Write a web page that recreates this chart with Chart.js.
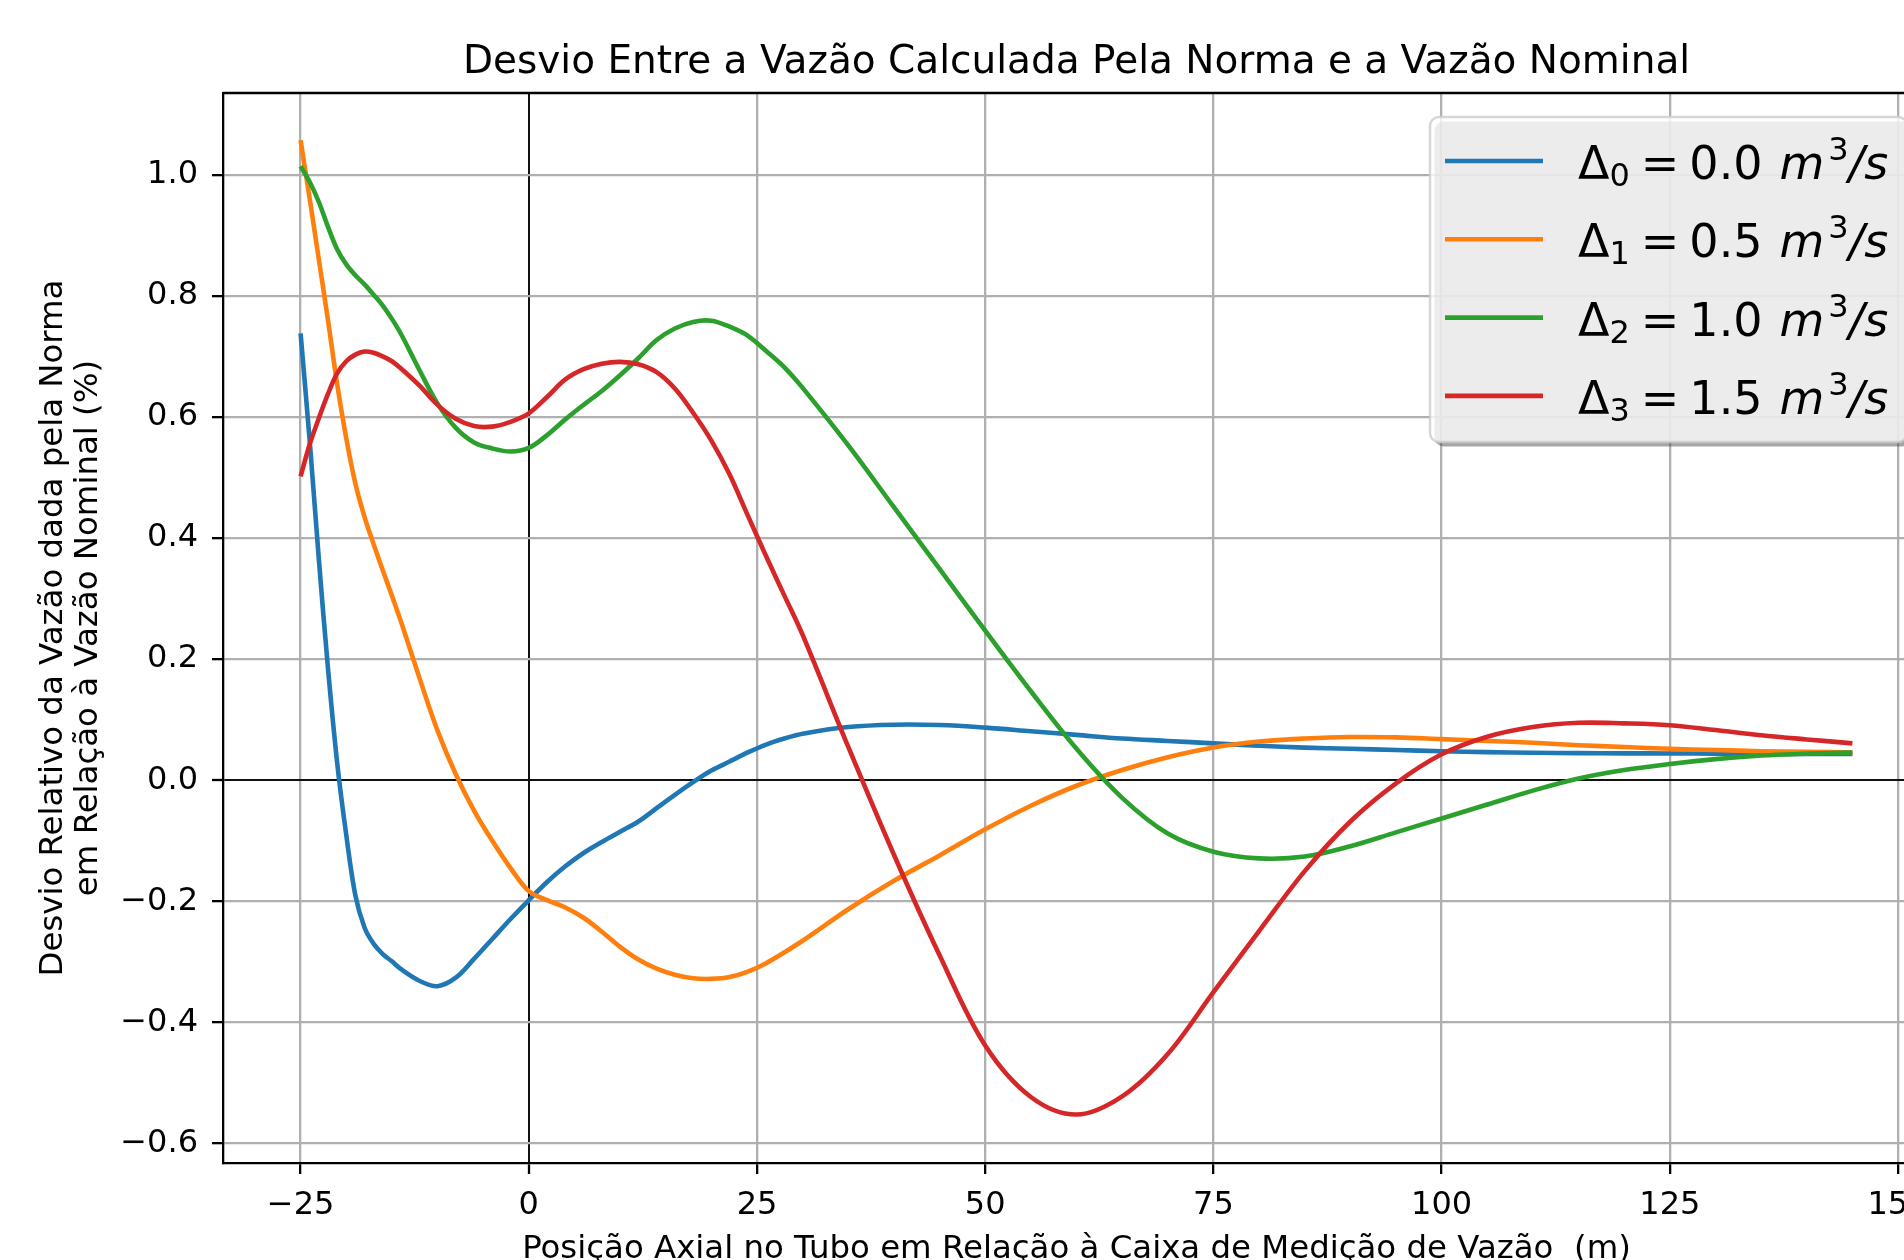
<!DOCTYPE html>
<html>
<head>
<meta charset="utf-8">
<title>Desvio Entre a Vazão Calculada Pela Norma e a Vazão Nominal</title>
<script src="https://cdn.jsdelivr.net/npm/chart.js@4.4.1/dist/chart.umd.min.js"></script>
<style>
    html, body { margin: 0; padding: 0; overflow: hidden; background: #fff; }
    canvas { display: block; }
</style>
</head>
<body>
<canvas id="desvioChart" width="1960" height="1260" style="width:1960px;height:1260px"></canvas>
<script>
// posição axial (m)
const posicao = [-25, -24, -23, -22, -21, -20, -19, -18, -17, -16, -15,
    -14, -12, -10, -8, -6, -4, -2, 0, 2, 4, 6, 8, 10, 12, 14, 16, 18, 20, 22, 24, 26, 28, 30,
    35, 40, 45, 50, 55, 60, 65, 70, 75, 80, 85, 90, 95, 100, 105, 110, 115, 120, 125, 130, 135, 140, 145];

// desvio relativo (%) para cada vazão
const delta0 = [0.738, 0.56, 0.365, 0.185, 0.03, -0.09, -0.19, -0.243, -0.27, -0.287, -0.299,
    -0.312, -0.331, -0.340, -0.326, -0.295, -0.262, -0.229, -0.198, -0.168, -0.142, -0.12, -0.102, -0.085, -0.068, -0.046, -0.024, -0.003, 0.016, 0.031, 0.046, 0.059, 0.069, 0.077,
    0.088, 0.0918, 0.0912, 0.087, 0.081, 0.075, 0.069, 0.065, 0.061, 0.057, 0.054, 0.052, 0.05, 0.048, 0.0465, 0.0455, 0.0448, 0.0445, 0.0443, 0.044, 0.0438, 0.0436, 0.0435];
const delta1 = [1.057, 0.96, 0.86, 0.76, 0.655, 0.565, 0.49, 0.435, 0.39, 0.347, 0.305,
    0.262, 0.17, 0.082, 0.01, -0.05, -0.1, -0.145, -0.183, -0.198, -0.21, -0.227, -0.25, -0.275, -0.296, -0.311, -0.321, -0.327, -0.328, -0.325, -0.316, -0.302, -0.284, -0.265,
    -0.213, -0.166, -0.124, -0.081, -0.042, -0.009, 0.017, 0.038, 0.054, 0.064, 0.069, 0.0715, 0.0708, 0.068, 0.065, 0.062, 0.058, 0.055, 0.052, 0.05, 0.048, 0.047, 0.046];
const delta2 = [1.014, 0.988, 0.955, 0.914, 0.877, 0.852, 0.834, 0.819, 0.802, 0.784, 0.762,
    0.737, 0.678, 0.622, 0.582, 0.558, 0.548, 0.543, 0.549, 0.57, 0.596, 0.62, 0.643, 0.669, 0.697, 0.727, 0.746, 0.757, 0.759, 0.749, 0.734, 0.709, 0.682, 0.648,
    0.553, 0.451, 0.349, 0.247, 0.147, 0.052, -0.029, -0.088, -0.118, -0.129, -0.126, -0.109, -0.086, -0.063, -0.04, -0.017, 0.003, 0.017, 0.027, 0.035, 0.041, 0.044, 0.046];
const delta3 = [0.502, 0.555, 0.598, 0.638, 0.672, 0.692, 0.703, 0.708, 0.706, 0.7, 0.692,
    0.68, 0.652, 0.62, 0.597, 0.585, 0.584, 0.592, 0.606, 0.633, 0.662, 0.679, 0.688, 0.691, 0.687, 0.674, 0.647, 0.607, 0.561, 0.505, 0.437, 0.37, 0.305, 0.24,
    0.055, -0.123, -0.289, -0.438, -0.523, -0.552, -0.522, -0.452, -0.35, -0.249, -0.15, -0.068, -0.005, 0.043, 0.072, 0.088, 0.095, 0.094, 0.091, 0.083, 0.0745, 0.0675, 0.061];

const xTicks = [-25, 0, 25, 50, 75, 100, 125, 150];
const yTicks = [-0.6, -0.4, -0.2, 0.0, 0.2, 0.4, 0.6, 0.8, 1.0];

const deltaIndice = ['0', '1', '2', '3'];
const deltaVazao = ['0.0', '0.5', '1.0', '1.5'];
const cores = ['#1f77b4', '#ff7f0e', '#2ca02c', '#d62728'];

const titulo = 'Desvio Entre a Vazão Calculada Pela Norma e a Vazão Nominal';
const rotuloX = 'Posição Axial no Tubo em Relação à Caixa de Medição de Vazão  (m)';
const rotuloY = ['Desvio Relativo da Vazão dada pela Norma', 'em Relação à Vazão Nominal (%)'];

const FONT = '"DejaVu Sans", sans-serif';
const pontos = ys => posicao.map((x, i) => ({ x: x, y: ys[i] }));
const menos = v => (v < -1e-9 ? '\u2212' : '') + Math.abs(v).toFixed(0);

function roundRect(ctx, x, y, w, h, r) {
    ctx.beginPath();
    ctx.moveTo(x + r, y);
    ctx.lineTo(x + w - r, y);
    ctx.arcTo(x + w, y, x + w, y + r, r);
    ctx.lineTo(x + w, y + h - r);
    ctx.arcTo(x + w, y + h, x + w - r, y + h, r);
    ctx.lineTo(x + r, y + h);
    ctx.arcTo(x, y + h, x, y + h - r, r);
    ctx.lineTo(x, y + r);
    ctx.arcTo(x, y, x + r, y, r);
    ctx.closePath();
}

function legendText(ctx, x, y, idx, valor) {
    const fs = 46, fsS = 32;
    const reg = fs + 'px ' + FONT, regS = fsS + 'px ' + FONT, ita = 'italic ' + fs + 'px ' + FONT;
    ctx.textAlign = 'left';
    ctx.textBaseline = 'alphabetic';
    ctx.fillStyle = '#000';
    let cx = x;
    ctx.font = reg; ctx.fillText('\u0394', cx, y); cx += ctx.measureText('\u0394').width;
    ctx.font = regS; ctx.fillText(idx, cx, y + 7); cx += ctx.measureText(idx).width + 11;
    ctx.font = reg; ctx.fillText('=', cx, y); cx += ctx.measureText('=').width + 10;
    ctx.fillText(valor, cx, y); cx += ctx.measureText(valor).width + 17;
    ctx.font = ita; ctx.fillText('m', cx, y); cx += ctx.measureText('m').width + 4;
    ctx.font = regS; ctx.fillText('3', cx, y - 19); cx += ctx.measureText('3').width;
    ctx.font = ita; ctx.fillText('/s', cx, y);
}

function drawLegend(ctx) {
    const x0 = 1430, y0 = 117, w = 477, h = 325, r = 9;
    ctx.save();
    roundRect(ctx, x0 + 4.5, y0 + 4.5, w, h, r);
    ctx.fillStyle = 'rgba(77,77,77,0.5)';
    ctx.fill();
    roundRect(ctx, x0, y0, w, h, r);
    ctx.fillStyle = 'rgba(255,255,255,0.8)';
    ctx.fill();
    ctx.strokeStyle = 'rgba(204,204,204,0.8)';
    ctx.lineWidth = 2.5;
    ctx.stroke();
    deltaIndice.forEach((idx, i) => {
        const ly = 161 + i * 78.3;
        ctx.strokeStyle = cores[i];
        ctx.lineWidth = 4.6;
        ctx.beginPath();
        ctx.moveTo(1445, ly);
        ctx.lineTo(1543, ly);
        ctx.stroke();
        legendText(ctx, 1578, ly + 18, idx, deltaVazao[i]);
    });
    ctx.restore();
}

const decorPlugin = {
    id: 'decor',
    afterDraw(chart) {
        const ctx = chart.ctx;
        const area = chart.chartArea;
        ctx.save();
        ctx.strokeStyle = '#000';
        ctx.lineWidth = 2.3;
        ctx.beginPath();
        ctx.moveTo(area.left, area.top);
        ctx.lineTo(area.right, area.top);
        ctx.lineTo(area.right, area.bottom);
        ctx.stroke();

        const cx = (area.left + area.right) / 2;
        const cy = (area.top + area.bottom) / 2;
        ctx.fillStyle = '#000';
        ctx.textAlign = 'center';
        ctx.textBaseline = 'alphabetic';
        ctx.font = '39px ' + FONT;
        ctx.fillText(titulo, cx, 73);
        ctx.font = '32.4px ' + FONT;
        ctx.fillText(rotuloX, cx, 1258);
        rotuloY.forEach((linha, i) => {
            ctx.save();
            ctx.translate(61.7 + i * 35.6, cy);
            ctx.rotate(-Math.PI / 2);
            ctx.fillText(linha, 0, 0);
            ctx.restore();
        });
        drawLegend(ctx);
        ctx.restore();
    }
};

const series = [delta0, delta1, delta2, delta3];
const ctx = document.getElementById('desvioChart').getContext('2d');
const desvioChart = new Chart(ctx, {
    type: 'line',
    data: {
        datasets: series.map((ys, i) => ({
            label: '\u0394' + deltaIndice[i] + ' = ' + deltaVazao[i] + ' m3/s',
            data: pontos(ys),
            borderColor: cores[i],
            backgroundColor: cores[i],
            borderWidth: 4.6,
            pointRadius: 0,
            fill: false,
            tension: 0.35,
            borderJoinStyle: 'round',
            order: 3 - i
        }))
    },
    options: {
        responsive: false,
        devicePixelRatio: 1,
        animation: false,
        layout: { padding: { left: 0, top: 93, right: 30, bottom: 0 } },
        plugins: {
            legend: { display: false },
            title: { display: false },
            tooltip: { enabled: false }
        },
        scales: {
            x: {
                type: 'linear',
                min: -33.5,
                max: 153.5,
                afterBuildTicks: scale => { scale.ticks = xTicks.map(v => ({ value: v })); },
                afterFit: scale => { scale.height = 97; },
                ticks: {
                    autoSkip: false,
                    maxRotation: 0,
                    padding: 12,
                    color: '#000',
                    font: { family: FONT, size: 32 },
                    callback: v => menos(v)
                },
                grid: {
                    color: c => (c.tick && Math.abs(c.tick.value) < 1e-9) ? '#111' : '#b0b0b0',
                    lineWidth: c => (c.tick && Math.abs(c.tick.value) < 1e-9) ? 2 : 2.3,
                    tickColor: '#000',
                    tickLength: 11,
                    tickWidth: 2.3
                },
                border: { display: true, color: '#000', width: 2.3 }
            },
            y: {
                type: 'linear',
                min: -0.632,
                max: 1.135,
                afterBuildTicks: scale => { scale.ticks = yTicks.map(v => ({ value: v })); },
                afterFit: scale => { scale.width = 223; },
                ticks: {
                    autoSkip: false,
                    padding: 14,
                    color: '#000',
                    font: { family: FONT, size: 32 },
                    callback: v => (v < -1e-9 ? '\u2212' : '') + Math.abs(v).toFixed(1)
                },
                grid: {
                    color: c => (c.tick && Math.abs(c.tick.value) < 1e-9) ? '#111' : '#b0b0b0',
                    lineWidth: c => (c.tick && Math.abs(c.tick.value) < 1e-9) ? 2 : 2.3,
                    tickColor: '#000',
                    tickLength: 11,
                    tickWidth: 2.3
                },
                border: { display: true, color: '#000', width: 2.3 }
            }
        }
    },
    plugins: [decorPlugin]
});
</script>
</body>
</html>
